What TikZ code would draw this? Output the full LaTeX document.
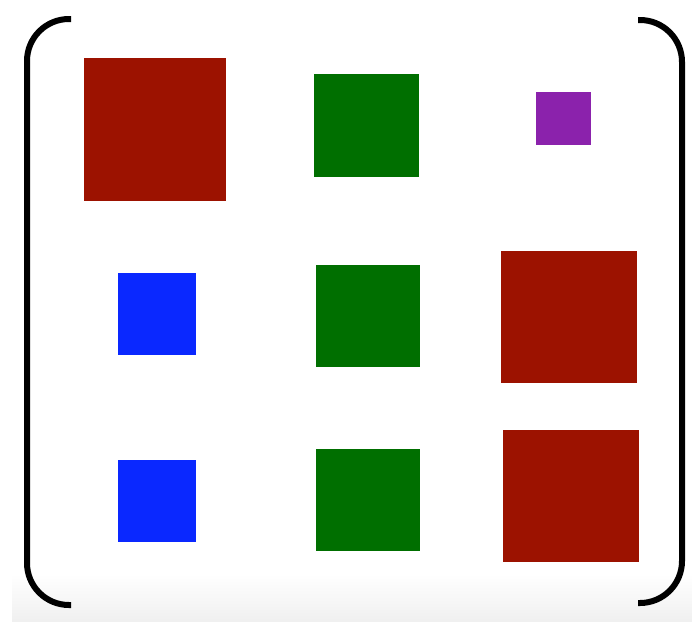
\documentclass[tikz,border=0pt]{standalone}
\usepackage{xcolor}
\usepackage{tikz}
\definecolor{blockred}{HTML}{9C1200}
\definecolor{blockgreen}{HTML}{006F00}
\definecolor{blockpurple}{HTML}{8B22AC}
\definecolor{blockblue}{HTML}{0A28FF}
\tikzset{
  cell/.style={inner sep=0pt,outer sep=0pt,draw=none},
  redcell/.style={cell,fill=blockred},
  greencell/.style={cell,fill=blockgreen},
  purplecell/.style={cell,fill=blockpurple},
  bluecell/.style={cell,fill=blockblue},
  paren/.style={line width=6pt,draw=black,rounded corners=42pt}
}
\begin{document}
\begin{tikzpicture}[x=1pt,y=-1pt]
  \useasboundingbox (0,0) rectangle (692,621);
  \shade[top color=white,bottom color=black!6] (12,574) rectangle (692,621);

  % first row
  \node[redcell,minimum width=142pt,minimum height=143pt] (a11) at (155,129) {};
  \node[greencell,minimum width=105pt,minimum height=103pt] (a12) at (366.5,125.5) {};
  \node[purplecell,minimum width=55pt,minimum height=53pt] (a13) at (563.5,118) {};

  % second row
  \node[bluecell,minimum width=78pt,minimum height=82pt] (a21) at (157,314) {};
  \node[greencell,minimum width=104pt,minimum height=102pt] (a22) at (368,316) {};
  \node[redcell,minimum width=136pt,minimum height=132pt] (a23) at (569,317) {};

  % third row
  \node[bluecell,minimum width=78pt,minimum height=82pt] (a31) at (157,501) {};
  \node[greencell,minimum width=104pt,minimum height=102pt] (a32) at (368,500) {};
  \node[redcell,minimum width=136pt,minimum height=132pt] (a33) at (571,496) {};

  % brackets
  \draw[paren] (71,19) -- (27,19) -- (27,605) -- (71,605);
  \draw[paren] (638,20) -- (682,20) -- (682,603) -- (638,603);
\end{tikzpicture}
\end{document}
